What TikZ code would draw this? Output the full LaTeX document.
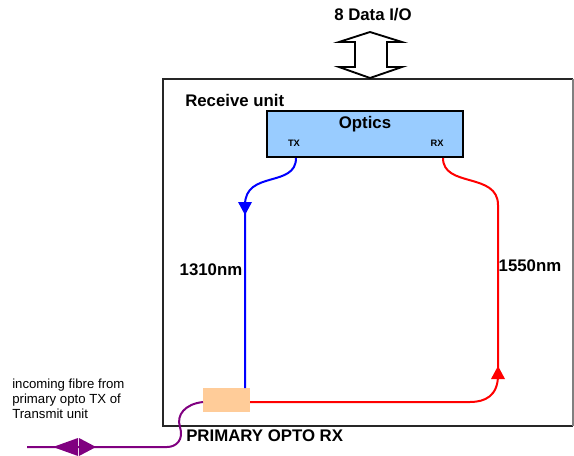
\documentclass[tikz,border=0pt]{standalone}
\usepackage{fontspec}
\setmainfont{Liberation Sans}
\usetikzlibrary{arrows.meta}
\definecolor{optblue}{HTML}{99CCFF}
\definecolor{peach}{HTML}{FFCC99}
\definecolor{fibpurple}{HTML}{800080}
\tikzset{
  lbl/.style={font=\bfseries\fontsize{12.6pt}{14pt}\selectfont, inner sep=0pt},
  small/.style={font=\fontsize{9.9pt}{11.3pt}\selectfont, inner sep=0pt, align=left},
  tiny/.style={font=\bfseries\fontsize{7pt}{8pt}\selectfont, inner sep=0pt},
  fibre/.style={line width=1.5pt},
}
\begin{document}
\begin{tikzpicture}[x=0.75pt,y=-0.75pt]
\useasboundingbox (0,0) rectangle (574,456);
% main box
\draw[line width=1.5pt, black!85] (573,79) -- (163,79) -- (163,426) -- (573,426);
\draw[line width=0.8pt, gray] (573,79) -- (573,426);
\node[lbl, anchor=west] (recv) at (185,100) {Receive unit};
% optics
\node[draw=black, line width=1.3pt, fill=optblue, minimum width=196*0.75pt, minimum height=46*0.75pt, inner sep=0pt] (optics) at (365,134) {};
\node[lbl] (opticst) at (365,124) {Optics};
\node[tiny] (tx) at (294,143) {TX};
\node[tiny] (rx) at (437,143) {RX};
% data io arrow
\draw[line width=1.4pt, fill=white] (370,32) -- (402,42) -- (387,42) -- (387,67) -- (402,67) -- (370,78) -- (339,67) -- (355,67) -- (355,42) -- (339,42) -- cycle;
\node[lbl] (dio) at (373,15) {8 Data I/O};
% peach box
\node[fill=peach, minimum width=47*0.75pt, minimum height=24*0.75pt, inner sep=0pt] (pbox) at (226.5,400) {};
% coordinates
\coordinate (txb) at (296,158);
\coordinate (rxb) at (443,158);
\coordinate (bl1) at (245,205);
\coordinate (bl2) at (245,388);
\coordinate (rd1) at (498,205);
\coordinate (rd2) at (498,375);
\coordinate (rd3) at (470,402);
\coordinate (rd4) at (250,402);
% blue fibre
\draw[fibre, blue] (txb) .. controls (296,188) and (245,170) .. (bl1) -- (bl2);
\fill[blue] (245,215) -- (238,202) -- (252,202) -- cycle;
% red fibre
\draw[fibre, red] (rxb) .. controls (443,188) and (498,172) .. (rd1) -- (rd2) .. controls (498,396) and (485,402) .. (rd3) -- (rd4);
\fill[red] (498,366) -- (491,379) -- (505,379) -- cycle;
% purple fibre
\coordinate (pu0) at (203,402);
\coordinate (pu1) at (167,447);
\coordinate (pu2) at (27,447);
\draw[fibre, fibpurple] (pu0) .. controls (185,404) and (176,415) .. (180,427) .. controls (184,440) and (176,447) .. (pu1) -- (pu2);
\fill[fibpurple] (53,447) -- (78,438) -- (78,456) -- cycle;
\fill[fibpurple] (96,447) -- (79,438) -- (79,456) -- cycle;
% labels
\node[lbl] (l1310) at (211,270) {1310nm};
\node[lbl] (l1550) at (530,266) {1550nm};
\node[lbl, anchor=west] (prim) at (186,436) {PRIMARY OPTO RX};
\node[small, anchor=north west] (inc) at (12,379) {incoming fibre from\\primary opto TX of\\Transmit unit};
\end{tikzpicture}
\end{document}
